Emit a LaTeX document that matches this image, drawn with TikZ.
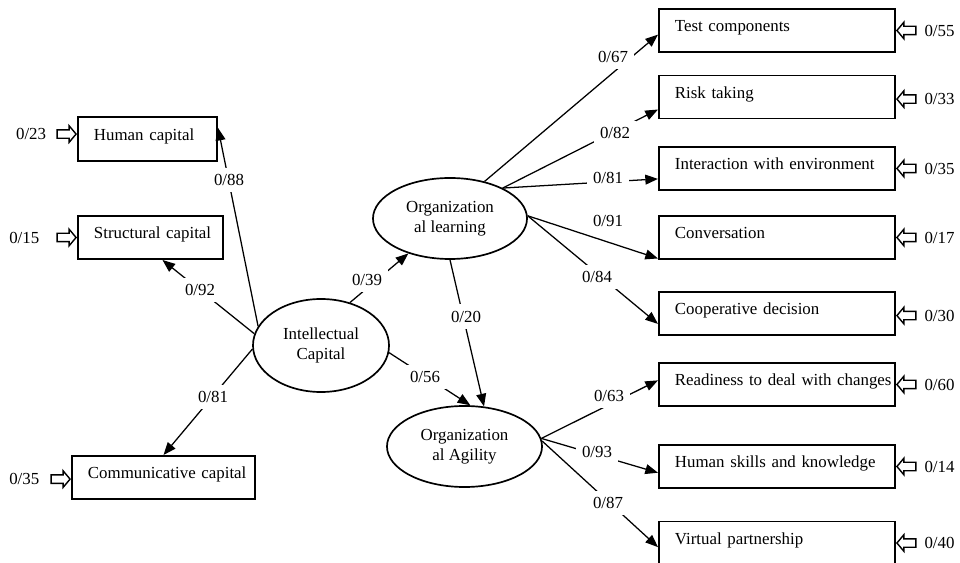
\documentclass[tikz,border=0pt]{standalone}
\usepackage{fontspec}
\setmainfont{Liberation Serif}
\usetikzlibrary{shapes.geometric, shapes.arrows, arrows.meta, positioning}

\begin{document}
\begin{tikzpicture}[
    x=0.025cm, y=-0.025cm,
    font=\fontsize{12}{14}\selectfont,
    latent/.style={ellipse, draw=black, line width=1.2pt, align=center, inner sep=0pt},
    indicator/.style={rectangle, draw=black, line width=1.4pt, inner xsep=0.05cm, inner ysep=0pt, minimum height=1.075cm, text height=8pt, text depth=6pt, align=left, execute at begin node=\hspace*{0.35cm}},
    errarr/.style={single arrow, draw=black, line width=1pt, fill=white, inner xsep=0pt, inner ysep=0.0875cm, minimum height=0.475cm, single arrow head extend=0.1cm, single arrow tip angle=100},
    errlbl/.style={inner sep=2pt},
    lbl/.style={fill=white, inner sep=4.5pt},
    effect/.style={line width=0.9pt, -{Triangle[length=9pt, width=7pt]}}
]
    \useasboundingbox (0,0) rectangle (960,563);

    % Latent variables
    \node (ic) [latent, minimum width=3.4cm, minimum height=2.325cm] at (321,345.5) {Intellectual\\Capital};
    \node (ol) [latent, minimum width=3.85cm, minimum height=2.025cm] at (450,218.5) {Organization\\al learning};
    \node (oa) [latent, minimum width=3.875cm, minimum height=2.025cm] at (464.5,446.5) {Organization\\al Agility};

    % Indicators - Intellectual Capital
    \node (hc) [indicator, text width=3.375cm, minimum height=1.1cm] at (147.5,139) {Human capital};
    \node (sc) [indicator, text width=3.525cm] at (150.5,237.5) {Structural capital};
    \node (cc) [indicator, text width=4.475cm] at (163.5,477.5) {\mbox{Communicative capital}};

    % Indicators - Organizational learning
    \node (test) [indicator, text width=5.8cm] at (777,30.5) {Test components};
    \node (risk) [indicator, text width=5.8cm] at (777,97) {Risk taking};
    \node (inter) [indicator, text width=5.8cm] at (777,168.5) {Interaction with environment};
    \node (conv) [indicator, text width=5.8cm] at (777,237.5) {Conversation};
    \node (coop) [indicator, text width=5.8cm] at (777,313.5) {Cooperative decision};

    % Indicators - Organizational Agility
    \node (ready) [indicator, text width=5.8cm] at (777,384.5) {\mbox{Readiness to deal with changes}};
    \node (skill) [indicator, text width=5.8cm] at (777,466.5) {Human skills and knowledge};
    \node (virt) [indicator, text width=5.8cm] at (777,543) {Virtual partnership};

    % Error terms - left
    \node (e23) [errarr, anchor=tip] at (hc.176) {};
    \node (t23) [errlbl, left=0.18cm of e23] {0/23};
    \node (e15) [errarr, anchor=tip] at (sc.west) {};
    \node (t15) [errlbl, left=0.35cm of e15] {0/15};
    \node (e35l) [errarr, anchor=tip] at (cc.181.6) {};
    \node (t35l) [errlbl, left=0.2cm of e35l] {0/35};

    % Error terms - right
    \node (e55) [errarr, shape border rotate=180, anchor=tip] at (test.east) {};
    \node (t55) [errlbl, right=0.12cm of e55] {0/55};
    \node (e33) [errarr, shape border rotate=180, anchor=tip] at (risk.-1.5) {};
    \node (t33) [errlbl, right=0.12cm of e33] {0/33};
    \node (e35r) [errarr, shape border rotate=180, anchor=tip] at (inter.east) {};
    \node (t35r) [errlbl, right=0.12cm of e35r] {0/35};
    \node (e17) [errarr, shape border rotate=180, anchor=tip] at (conv.east) {};
    \node (t17) [errlbl, right=0.12cm of e17] {0/17};
    \node (e30) [errarr, shape border rotate=180, anchor=tip] at (coop.-1.7) {};
    \node (t30) [errlbl, right=0.12cm of e30] {0/30};
    \node (e60) [errarr, shape border rotate=180, anchor=tip] at (ready.east) {};
    \node (t60) [errlbl, right=0.12cm of e60] {0/60};
    \node (e14) [errarr, shape border rotate=180, anchor=tip] at (skill.east) {};
    \node (t14) [errlbl, right=0.12cm of e14] {0/14};
    \node (e40) [errarr, shape border rotate=180, anchor=tip] at (virt.east) {};
    \node (t40) [errlbl, right=0.12cm of e40] {0/40};

    % Paths - Intellectual Capital
    \draw [effect] (ic.163) -- (hc.9);
    \draw [effect] (ic.170) -- (sc.-62);
    \draw [effect] (ic.183) -- (cc.north);
    \draw [effect] (ic.56) -- (ol.220);
    \draw [effect] (ic.-6) -- (oa.82);
    \draw [effect] (ol.south) -- (oa.64);

    % Paths - Organizational learning
    \draw [effect] (ol.47) -- (test.182);
    \draw [effect] (ol.30) -- (risk.186);
    \draw [effect] (ol.30) -- (inter.185);
    \draw [effect] (ol.2) -- (conv.190);
    \draw [effect] (ol.2) -- (coop.185);

    % Paths - Organizational Agility
    \draw [effect] (oa.6) -- (ready.178.3);
    \draw [effect] (oa.6) -- (skill.183.2);
    \draw [effect] (oa.4) -- (virt.182.4);

    % Loadings
    \node (l88) [lbl] at (229,180) {0/88};
    \node (l92) [lbl] at (200,290) {0/92};
    \node (l81a) [lbl] at (213,397) {0/81};
    \node (l39) [lbl] at (367,280) {0/39};
    \node (l56) [lbl] at (425,377) {0/56};
    \node (l20) [lbl] at (466,316.5) {0/20};
    \node (l67) [lbl] at (613,57) {0/67};
    \node (l82) [lbl] at (615,133) {0/82};
    \node (l81b) [lbl] at (608,178) {0/81};
    \node (l91) [lbl] at (608,221) {0/91};
    \node (l84) [lbl] at (597,277) {0/84};
    \node (l63) [lbl] at (609,396) {0/63};
    \node (l93) [lbl] at (597,452) {0/93};
    \node (l87) [lbl] at (608,503) {0/87};
\end{tikzpicture}
\end{document}
